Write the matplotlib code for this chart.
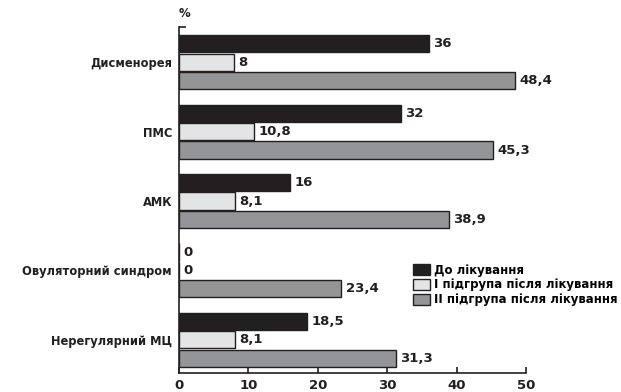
import matplotlib
matplotlib.use('Agg')
import matplotlib.pyplot as plt
import numpy as np

plt.rcParams['font.family'] = ['DejaVu Sans']
plt.rcParams['font.weight'] = 'bold'

categories = ['Дисменорея', 'ПМС', 'АМК', 'Овуляторний синдром', 'Нерегулярний МЦ']
before = [36, 32, 16, 0, 18.5]
group1 = [8, 10.8, 8.1, 0, 8.1]
group2 = [48.4, 45.3, 38.9, 23.4, 31.3]
series_names = ['До лікування', 'І підгрупа після лікування', 'ІІ підгрупа після лікування']
xticks = [0, 10, 20, 30, 40, 50]

dark = '#231f20'
colors = [dark, '#e3e4e5', '#939598']


def fmt(v):
    if float(v).is_integer():
        return str(int(v))
    return ('%.1f' % v).replace('.', ',')


fig = plt.figure(figsize=(6.21, 3.92), dpi=100)
ax = fig.add_axes([0.2882, 0.0485, 0.847 - 0.2882, 0.9311 - 0.0485])

y = np.arange(len(categories))
step = 0.266
h = 0.245
for i, vals in enumerate([before, group1, group2]):
    pos = y + (i - 1) * step
    ax.barh(pos, vals, height=h, color=colors[i], edgecolor=dark,
            linewidth=1.0, label=series_names[i])
    for p, v in zip(pos, vals):
        ax.text(v + 0.6, p, fmt(v), va='center', ha='left',
                fontsize=9.5, fontweight='bold', color=dark)

ax.set_xlim(0, 50)
ax.set_ylim(4.475, -0.504)
ax.set_xticks(xticks)
ax.set_xticklabels([str(t) for t in xticks], fontsize=9.5, fontweight='bold', color=dark)
ax.set_yticks(y)
ax.set_yticklabels(categories, fontsize=8.3, fontweight='bold', color=dark)
ax.tick_params(axis='y', which='major', length=0, pad=5)
ax.tick_params(axis='x', direction='in', length=4.5, width=1.2, color=dark, pad=4)
ax.set_yticks([-0.504], minor=True)
ax.tick_params(axis='y', which='minor', direction='in', length=5, width=1.2, color=dark)

for s in ['top', 'right']:
    ax.spines[s].set_visible(False)
for s in ['left', 'bottom']:
    ax.spines[s].set_linewidth(1.2)
    ax.spines[s].set_color(dark)

ax.text(0, 1.02, '%', transform=ax.transAxes, ha='left', va='bottom',
        fontsize=8.5, fontweight='bold', color=dark)

leg = ax.legend(loc='upper left', bbox_to_anchor=(0.66, 0.33), frameon=False,
                fontsize=8.5, handlelength=1.5, handleheight=1.05,
                handletextpad=0.3, labelspacing=0.15, borderaxespad=0)

fig.savefig('out.png', dpi=100)
